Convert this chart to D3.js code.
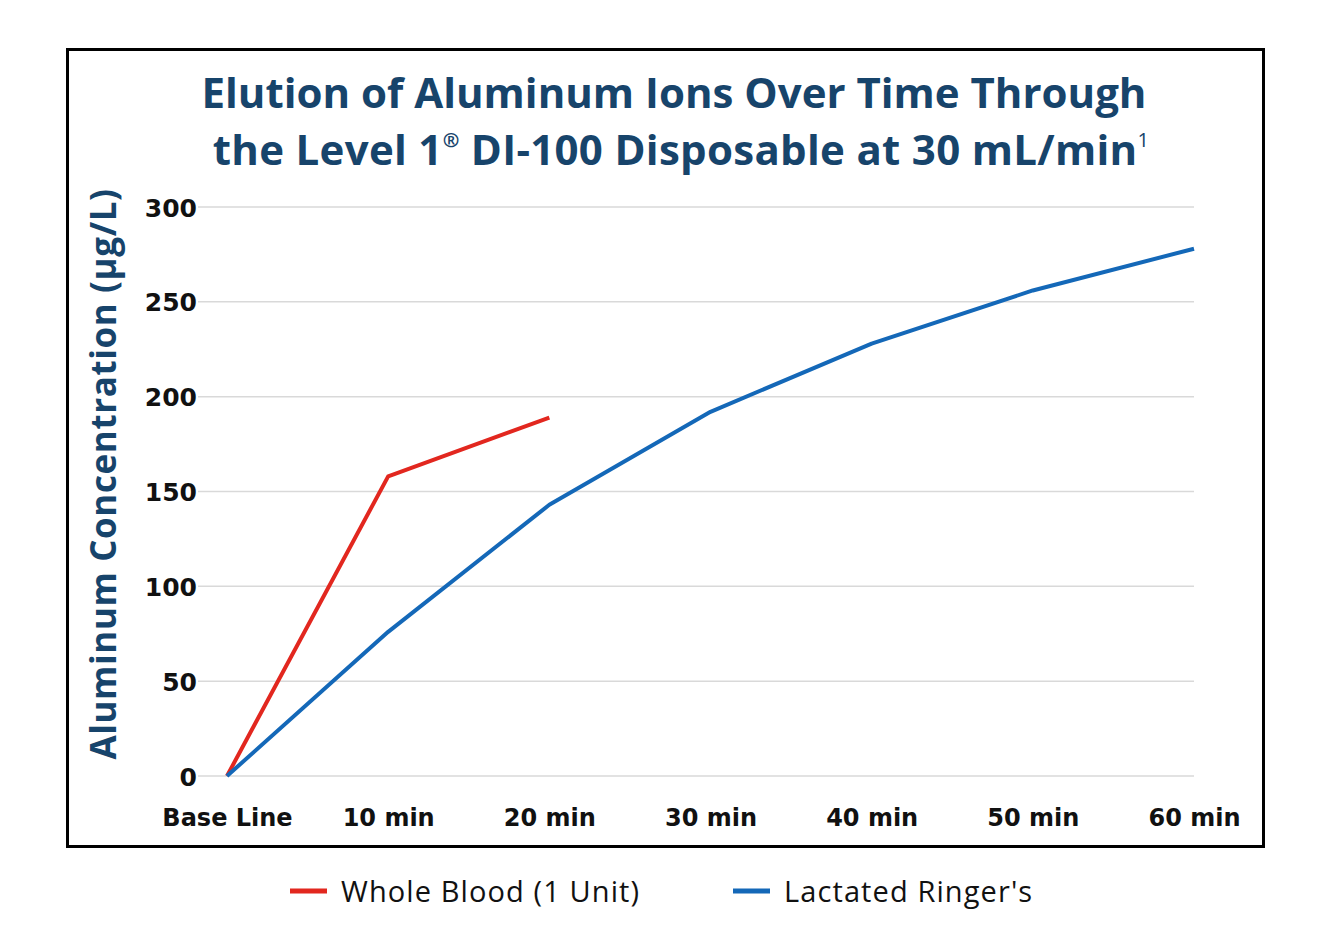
<!DOCTYPE html>
<html><head><meta charset="utf-8">
<script src="https://cdn.jsdelivr.net/npm/d3@7"></script>
<style>body{margin:0;background:#fff;}svg{display:block;}</style>
</head><body>
<script>
const categories = ["Base Line","10 min","20 min","30 min","40 min","50 min","60 min"];
const wholeBlood = [0,158,189];
const lactatedRingers = [0,76,143,192,228,256,278];
const yTicks = [0,50,100,150,200,250,300];
const seriesNames = ["Whole Blood (1 Unit)","Lactated Ringer's"];
const colors = ["#e2271f","#1468b8"];

const W=1329,H=943;
const svg=d3.select("body").append("svg").attr("width",W).attr("height",H);
svg.append("rect").attr("x",67.5).attr("y",49.5).attr("width",1196).attr("height",797)
  .attr("fill","none").attr("stroke","#000").attr("stroke-width",3);

const navy="#17446b";
const title=svg.append("text").attr("text-anchor","middle").attr("fill",navy)
  .attr("font-family","'Open Sans', sans-serif").attr("font-weight",700).attr("font-size",42);
title.append("tspan").attr("x",674).attr("y",108).text("Elution of Aluminum Ions Over Time Through");
const t2=title.append("tspan").attr("x",681).attr("y",165).attr("letter-spacing",0.3);
t2.append("tspan").text("the Level 1");
t2.append("tspan").attr("font-size",20).attr("dy",-18).text("®");
t2.append("tspan").attr("dy",18).text(" DI-100 Disposable at 30 mL/min");
t2.append("tspan").attr("font-size",20).attr("dy",-18).attr("font-weight",400).text("1");

const x=d3.scalePoint().domain(categories).range([227,1194]);
const y=d3.scaleLinear().domain([0,300]).range([776,207]);

const grid=svg.append("g");
grid.selectAll("line").data(yTicks).join("line")
  .attr("x1",198).attr("x2",1194).attr("y1",d=>y(d)).attr("y2",d=>y(d))
  .attr("stroke","#d9d9d9").attr("stroke-width",1.5);

const yAxis=svg.append("g").attr("transform","translate(197,0)")
  .call(d3.axisLeft(y).tickValues(yTicks).tickSize(0).tickPadding(0));
yAxis.select(".domain").remove();
yAxis.selectAll("text").attr("font-family","'DejaVu Sans', sans-serif").attr("font-weight",700)
  .attr("font-size",25).attr("fill","#111").attr("dy","0.36em");

const xAxis=svg.append("g").attr("transform","translate(0,776)")
  .call(d3.axisBottom(x).tickSize(0).tickPadding(0));
xAxis.select(".domain").remove();
xAxis.selectAll("text").attr("font-family","'DejaVu Sans', sans-serif").attr("font-weight",700)
  .attr("font-size",24).attr("fill","#111").attr("y",50).attr("dy",0);

svg.append("text").attr("transform","translate(116,474) rotate(-90)").attr("text-anchor","middle")
  .attr("fill",navy).attr("font-family","'Open Sans', sans-serif").attr("font-weight",700)
  .attr("font-size",35).attr("letter-spacing",0.6).text("Aluminum Concentration (µg/L)");

const line=d3.line().x((d,i)=>x(categories[i])).y(d=>y(d));
[wholeBlood,lactatedRingers].forEach((s,i)=>{
  svg.append("path").datum(s).attr("d",line).attr("fill","none")
    .attr("stroke",colors[i]).attr("stroke-width",4).attr("stroke-linejoin","round");
});

const legX=[290,733];
seriesNames.forEach((n,i)=>{
  svg.append("line").attr("x1",legX[i]).attr("x2",legX[i]+37).attr("y1",891).attr("y2",891)
    .attr("stroke",colors[i]).attr("stroke-width",5);
  svg.append("text").attr("x",legX[i]+51).attr("y",902).attr("font-family","'Open Sans', sans-serif")
    .attr("font-size",29).attr("letter-spacing",1.1).attr("fill","#111").text(n);
});
</script>
</body></html>
